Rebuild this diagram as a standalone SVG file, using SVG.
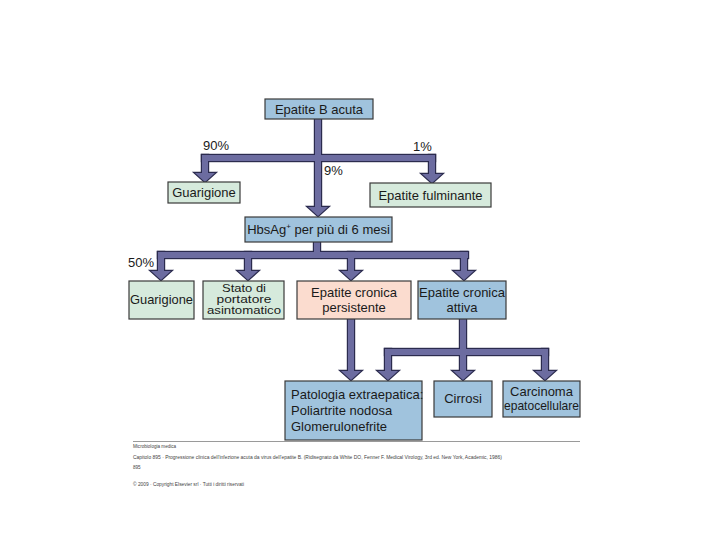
<svg xmlns="http://www.w3.org/2000/svg" xmlns:xlink="http://www.w3.org/1999/xlink" width="720" height="540" viewBox="0 0 720 540">
<style>
  .box { stroke: #3a3a3a; stroke-width: 1.2; }
  .blue { fill: #a0c3dd; }
  .green { fill: #d6eadc; }
  .pink { fill: #fbdccf; }
  .t { font-family: "Liberation Sans", Arial, sans-serif; font-size: 13px; fill: #1a1a1a; }
  .tight { font-size: 10.5px; }
  .c { text-anchor: middle; }
  .foot { font-family: "Liberation Sans", Arial, sans-serif; font-size: 4.6px; fill: #444; }
  .arrOut { fill: #2b2b4e; stroke: #2b2b4e; stroke-width: 2.4; stroke-linejoin: miter; }
  .arrIn { fill: #6c6ca0; stroke: none; }
</style>
<defs>
  <g id="conn">
    <!-- level 1 -->
    <rect x="315" y="118" width="6" height="90"/>
    <polygon points="308,207 328,207 318,216"/>
    <rect x="202" y="155" width="233" height="6"/>
    <rect x="202" y="155" width="6" height="19"/>
    <polygon points="195,173 215,173 205,182"/>
    <rect x="429" y="155" width="6" height="20"/>
    <polygon points="422,174 442,174 432,183"/>
    <!-- level 2 -->
    <rect x="314" y="241" width="6" height="15"/>
    <rect x="158" y="252" width="310" height="6"/>
    <rect x="158" y="252" width="6" height="19"/>
    <polygon points="151,271 171,271 161,280"/>
    <rect x="245" y="252" width="6" height="19"/>
    <polygon points="238,271 258,271 248,280"/>
    <rect x="348" y="252" width="6" height="19"/>
    <polygon points="341,271 361,271 351,280"/>
    <rect x="461" y="252" width="6" height="19"/>
    <polygon points="454,271 474,271 464,280"/>
    <!-- level 3 -->
    <rect x="348" y="318" width="6" height="53"/>
    <polygon points="341,371 361,371 351,380"/>
    <rect x="460" y="318" width="6" height="53"/>
    <polygon points="453,371 473,371 463,380"/>
    <rect x="385" y="349" width="163" height="6"/>
    <rect x="385" y="349" width="6" height="22"/>
    <polygon points="378,371 398,371 388,380"/>
    <rect x="542" y="349" width="6" height="22"/>
    <polygon points="535,371 555,371 545,380"/>
  </g>
</defs>

<rect width="720" height="540" fill="#ffffff"/>

<g id="connectors">
  <use xlink:href="#conn" class="arrOut"/>
  <use xlink:href="#conn" class="arrIn"/>
</g>

<g id="n-acuta">
  <rect class="box blue" x="265" y="99" width="108" height="20"/>
  <text class="t c" x="319" y="114">Epatite B acuta</text>
</g>
<g id="n-guar1">
  <rect class="box green" x="168" y="182" width="72" height="21"/>
  <text class="t c" x="204" y="197">Guarigione</text>
</g>
<g id="n-fulm">
  <rect class="box green" x="370" y="183" width="121" height="24"/>
  <text class="t c" x="430.5" y="200">Epatite fulminante</text>
</g>
<g id="n-hbsag">
  <rect class="box blue" x="245" y="217" width="147" height="25"/>
  <text class="t c" x="318.5" y="234">HbsAg<tspan font-size="8" dy="-5">+</tspan><tspan dy="5"> per più di 6 mesi</tspan></text>
</g>
<g id="n-guar2">
  <rect class="box green" x="129" y="281" width="65" height="38"/>
  <text class="t c" x="161.5" y="304" textLength="63" lengthAdjust="spacingAndGlyphs">Guarigione</text>
</g>
<g id="n-stato">
  <rect class="box green" x="203" y="281" width="81" height="38"/>
  <text class="t tight c" x="244" y="292" textLength="44" lengthAdjust="spacingAndGlyphs">Stato di</text>
  <text class="t tight c" x="244" y="302.5" textLength="55" lengthAdjust="spacingAndGlyphs">portatore</text>
  <text class="t tight c" x="244" y="313.5" textLength="74" lengthAdjust="spacingAndGlyphs">asintomatico</text>
</g>
<g id="n-persist">
  <rect class="box pink" x="297" y="281" width="114" height="38"/>
  <text class="t c" x="354" y="297">Epatite cronica</text>
  <text class="t c" x="354" y="312">persistente</text>
</g>
<g id="n-attiva">
  <rect class="box blue" x="418" y="281" width="88" height="38"/>
  <text class="t c" x="462" y="297" textLength="86" lengthAdjust="spacingAndGlyphs">Epatite cronica</text>
  <text class="t c" x="462" y="312">attiva</text>
</g>
<g id="n-patologia">
  <rect class="box blue" x="285" y="381" width="137" height="59"/>
  <text class="t" x="291" y="399">Patologia extraepatica:</text>
  <text class="t" x="291" y="415">Poliartrite nodosa</text>
  <text class="t" x="291" y="431">Glomerulonefrite</text>
</g>
<g id="n-cirrosi">
  <rect class="box blue" x="434" y="381" width="58" height="36"/>
  <text class="t c" x="463" y="403">Cirrosi</text>
</g>
<g id="n-carcinoma">
  <rect class="box blue" x="503" y="381" width="77" height="36"/>
  <text class="t c" x="541.5" y="396">Carcinoma</text>
  <text class="t c" x="541.5" y="410" textLength="75" lengthAdjust="spacingAndGlyphs">epatocellulare</text>
</g>

<g id="labels">
  <text class="t" x="203" y="150">90%</text>
  <text class="t" x="413" y="151">1%</text>
  <text class="t" x="324" y="175">9%</text>
  <text class="t" x="128" y="267">50%</text>
</g>

<g id="footer">
  <line x1="133" y1="441.5" x2="580" y2="441.5" stroke="#9a9a9a" stroke-width="1"/>
  <text class="foot" x="133" y="448">Microbiologia medica</text>
  <text class="foot" x="133" y="459" textLength="369" lengthAdjust="spacingAndGlyphs">Capitolo 895 · Progressione clinica dell'infezione acuta da virus dell'epatite  B.  (Ridisegnato da White DO, Fenner F. Medical Virology, 3rd ed. New York, Academic, 1986)</text>
  <text class="foot" x="133" y="469">895</text>
  <text class="foot" x="133" y="486" textLength="111" lengthAdjust="spacingAndGlyphs">© 2009 · Copyright Elsevier srl · Tutti i diritti riservati</text>
</g>
</svg>
